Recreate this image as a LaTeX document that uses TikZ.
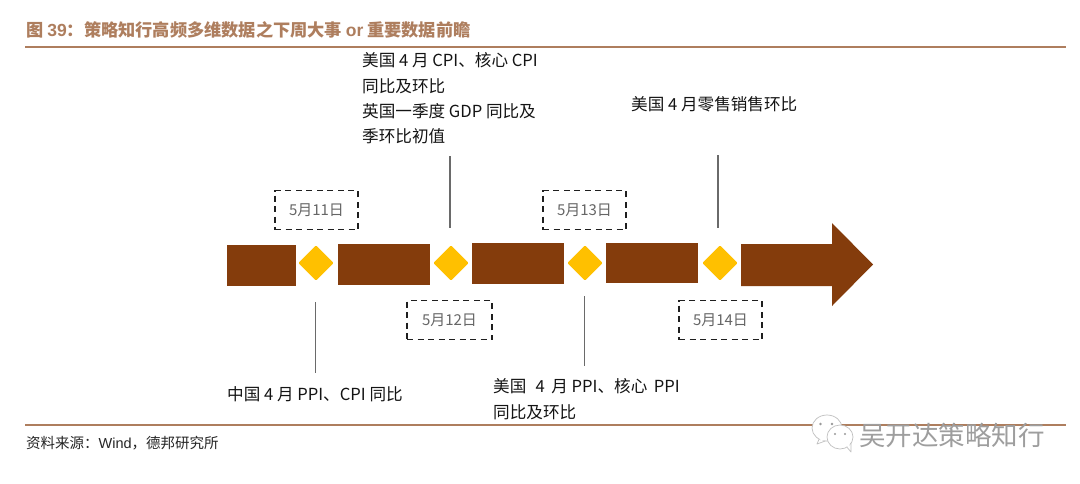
\documentclass[tikz,border=0pt]{standalone}
\usepackage{fontspec}
\setmainfont{Noto Sans CJK SC}
\newfontfamily\latinbold{Liberation Sans}[BoldFont={Liberation Sans Bold}]
\usetikzlibrary{shapes.geometric}
\definecolor{brownbar}{HTML}{843C0C}
\definecolor{rulec}{HTML}{AE7E5E}
\definecolor{goldd}{HTML}{FFC000}
\definecolor{leadc}{HTML}{6A6A6A}
\tikzset{
  bar/.style={fill=brownbar,draw=none,inner sep=0pt},
  gem/.style={fill=goldd,draw=goldd,line width=2.4pt,line join=round,diamond,minimum width=33pt,minimum height=33pt,inner sep=0pt},
  datebox/.style={draw=black!88,line width=1.9pt,dash pattern=on 6pt off 4.5pt,minimum width=83pt,minimum height=39pt,inner sep=0pt,text=black!60,font=\fontsize{15}{15}\selectfont},
  note/.style={anchor=west,inner sep=0pt,text=black!92,font=\fontsize{16.6}{16.6}\selectfont},
  lead/.style={draw=leadc,line width=1.5pt},
  hrule/.style={draw=rulec,line width=2.4pt},
  bubble/.style={fill=white,draw=black!25,line width=.7pt,line join=round}
}
\begin{document}
\begin{tikzpicture}[x=1pt,y=-1pt]
\useasboundingbox (0,0) rectangle (1080,483);
\fill[white] (0,0) rectangle (1080,483);
% rules
\coordinate (t1) at (25,47); \coordinate (t2) at (1066,47);
\coordinate (b1) at (25,425); \coordinate (b2) at (1066,425);
\draw[hrule] (t1) -- (t2);
\draw[hrule] (b1) -- (b2);
% title
\node[anchor=west,inner sep=0pt,text=rulec,font=\fontsize{17.2}{17.2}\selectfont\bfseries] (title) at (26,30)
 {图 {\latinbold\bfseries\fontsize{17.5}{17.5}\selectfont 39}：策略知行高频多维数据之下周大事 {\latinbold\bfseries\fontsize{17.5}{17.5}\selectfont or} 重要数据前瞻};
% bars
\node[bar,minimum width=69pt,minimum height=41pt] (b1n) at (261.5,265.5) {};
\node[bar,minimum width=92pt,minimum height=41pt] (b2n) at (384,264.5) {};
\node[bar,minimum width=92pt,minimum height=41pt] (b3n) at (518,263.5) {};
\node[bar,minimum width=92pt,minimum height=40pt] (b4n) at (652,263) {};
\fill[brownbar] (741,244) -- (832,244) -- (832,223) -- (873,264.5) -- (832,306) -- (832,286) -- (741,286) -- cycle;
% diamonds
\node[gem] (d1) at (316,263) {};
\node[gem] (d2) at (451,263) {};
\node[gem] (d3) at (585,263) {};
\node[gem] (d4) at (720,263) {};
% dates
\node[datebox] (m11) at (316.5,210) {5月11日};
\node[datebox,minimum width=85pt] (m12) at (449.5,320) {5月12日};
\node[datebox] (m13) at (584.5,210) {5月13日};
\node[datebox] (m14) at (720.5,320) {5月14日};
% leaders
\coordinate (l2a) at (450,156); \coordinate (l2b) at (450,228);
\coordinate (l4a) at (718,155); \coordinate (l4b) at (718,228);
\coordinate (l1a) at (315.5,302); \coordinate (l1b) at (315.5,373);
\coordinate (l3a) at (584.5,296); \coordinate (l3b) at (584.5,366);
\draw[lead] (l2a) -- (l2b);
\draw[lead,line width=1.1pt] (l4a) -- (l4b);
\draw[lead] (l1a) -- (l1b);
\draw[lead,line width=1.1pt] (l3a) -- (l3b);
% notes
\node[note] (n1) at (362,60) {美国 4 月 CPI、核心 CPI};
\node[note] (n2) at (362,86) {同比及环比};
\node[note] (n3) at (362,111) {英国一季度 GDP 同比及};
\node[note] (n4) at (362,136) {季环比初值};
\node[note] (n5) at (631,104) {美国 4 月零售销售环比};
\node[note] (n6) at (227,394) {中国 4 月 PPI、CPI 同比};
\node[note] (n7) at (493,386) {美国\,\, 4 \,月 PPI、核心 \,PPI};
\node[note] (n8) at (493,412) {同比及环比};
% source
\node[anchor=west,inner sep=0pt,text=black!85,font=\fontsize{14.5}{14.5}\selectfont] (src) at (26,443) {资料来源：{\latinbold Wind}，德邦研究所};
% watermark
\draw[bubble] (820,437) -- (817,444) -- (828,440) -- cycle;
\draw[bubble] (827,428) ellipse (15pt and 13pt);
\fill[white] (819,437) -- (821,441) -- (829,439) -- (829,433) -- cycle;
\fill[black!40] (820.5,424) circle (1.4pt) (832,424) circle (1.4pt);
\draw[bubble] (846,446) -- (851,452) -- (851,442) -- cycle;
\draw[bubble] (840,437) ellipse (13pt and 12pt);
\fill[white] (846,445) -- (849.5,449) -- (849.5,441) -- cycle;
\fill[black!40] (835,434) circle (1.1pt) (845,434) circle (1.1pt);
\node[anchor=west,inner sep=0pt,text=black!38,font=\fontsize{26.5}{26.5}\selectfont] (wm) at (859,435) {吴开达策略知行};
\end{tikzpicture}
\end{document}
